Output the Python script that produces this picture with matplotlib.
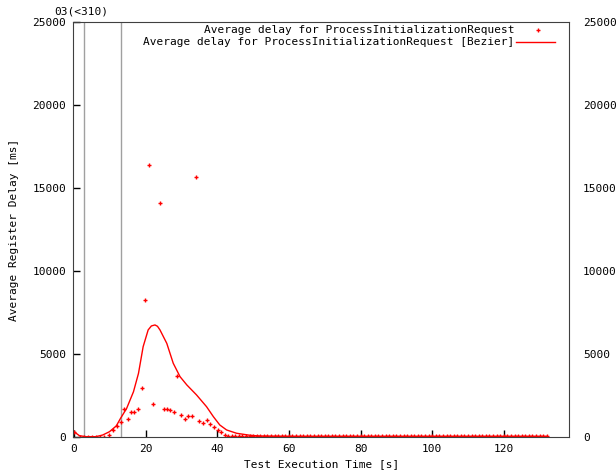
import numpy as np
import matplotlib
matplotlib.use("Agg")
import matplotlib.pyplot as plt

# Data
time_head = [0.0, 1.7, 2.8, 3.9, 5.0, 6.1, 7.3, 8.4, 9.9, 10.8,
             11.9, 13.0, 13.9, 15.0, 15.8, 16.7, 17.9, 19.1, 19.8, 20.9,
             22.0, 23.9, 25.0, 25.9, 26.9, 28.0, 28.8, 29.9, 31.1, 31.9,
             32.9, 34.0, 34.8, 35.9, 37.0, 37.9, 39.0, 40.1, 40.9, 42.1]
delay_head = [300, 0, 0, 0, 0, 0, 0, 0, 80, 385,
              630, 870, 1670, 1050, 1510, 1510, 1690, 2920, 8225, 16390,
              1990, 14080, 1690, 1690, 1630, 1510, 3640, 1330, 1050, 1230,
              1230, 15640, 930, 810, 990, 750, 570, 390, 265, 85]

# long flat tail, one sample per second
time_tail = list(range(43, 133))
delay_tail = [40, 35, 30, 40, 45, 30, 35, 40, 30, 35,
              40, 30, 35, 40, 45, 35, 30, 40, 35, 30,
              40, 35, 30, 40, 35, 30, 40, 45, 35, 30,
              40, 35, 30, 35, 40, 30, 35, 40, 30, 35,
              40, 35, 30, 40, 35, 30, 40, 35, 30, 35,
              40, 30, 35, 40, 30, 35, 40, 35, 30, 40,
              35, 30, 40, 35, 30, 40, 35, 30, 35, 40,
              30, 35, 40, 30, 35, 40, 35, 30, 40, 35,
              30, 40, 35, 30, 35, 40, 30, 35, 40, 30]

# bezier smoothed curve
bezier_time = [0.0, 1.5, 3.3, 6.1, 8.0, 9.9, 11.8, 13.0, 14.7, 16.6,
               18.0, 19.3, 20.7, 21.6, 22.6, 23.3, 24.0, 25.9, 27.7, 29.6,
               31.5, 34.2, 37.0, 38.9, 40.7, 42.6, 45.4, 49.1, 51.9, 60.0,
               132.0]
bezier_delay = [300, 60, 0, 0, 100, 300, 650, 1110, 1710, 2710,
                3820, 5430, 6440, 6680, 6740, 6660, 6440, 5630, 4430, 3620,
                3120, 2520, 1810, 1210, 705, 405, 205, 85, 40, 20,
                20]

marker_times = [2.9, 13.0]

x_ticks = [0, 20, 40, 60, 80, 100, 120]
y_ticks = [0, 5000, 10000, 15000, 20000, 25000]

times = np.array(time_head + time_tail, dtype=float)
delays = np.array(delay_head + delay_tail, dtype=float)

plt.rcParams["font.family"] = "DejaVu Sans Mono"
plt.rcParams["font.size"] = 8

fig = plt.figure(figsize=(6.16, 4.70), dpi=100)
ax = fig.add_axes([0.119, 0.0709, 0.8047, 0.8817])

for t in marker_times:
    ax.axvline(t, color="#a0a0a0", lw=1)

ax.plot(times, delays, linestyle="none", marker="+", markersize=3,
        markeredgewidth=1, color="#ff0000")
ax.plot(bezier_time, bezier_delay, color="#ff0000", lw=1)

ax.set_xlim(-0.2, 138.2)
ax.set_ylim(0, 25000)
ax.set_xticks(x_ticks)
ax.set_yticks(y_ticks)
ax.tick_params(direction="in", length=5, width=1, pad=5, top=False, right=False)

for s in ax.spines.values():
    s.set_color("#404040")

ax.set_xlabel("Test Execution Time [s]", labelpad=4)
ax.set_ylabel("Average Register Delay [ms]", labelpad=10)

# right side labels (no tick marks)
ax2 = ax.twinx()
ax2.set_ylim(ax.get_ylim())
ax2.set_yticks(y_ticks)
ax2.tick_params(length=0, pad=10)
ax2.spines[:].set_visible(False)

# legend drawn gnuplot style: right aligned text, sample on the right
ax.text(0.89, 0.981, "Average delay for ProcessInitializationRequest",
        transform=ax.transAxes, ha="right", va="center")
ax.plot([0.9375], [0.981], transform=ax.transAxes, marker="+", markersize=3,
        markeredgewidth=1, color="#ff0000", linestyle="none")
ax.text(0.89, 0.953, "Average delay for ProcessInitializationRequest [Bezier]",
        transform=ax.transAxes, ha="right", va="center")
ax.plot([0.893, 0.972], [0.953, 0.953], transform=ax.transAxes,
        color="#ff0000", lw=1)

fig.text(0.132, 0.976, "03(<310)", ha="center", va="center")

fig.savefig("out.png", dpi=100)
